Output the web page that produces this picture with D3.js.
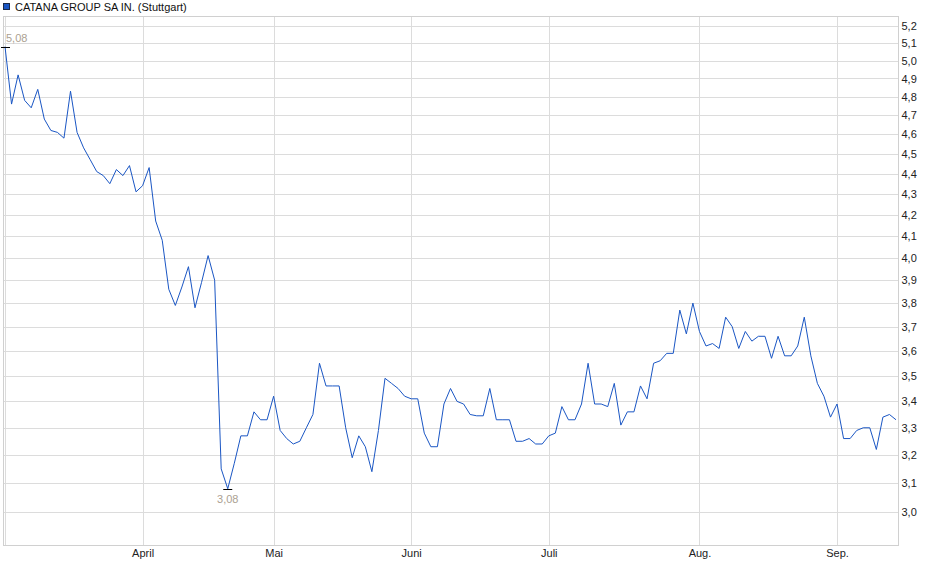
<!DOCTYPE html>
<html>
<head>
<meta charset="utf-8">
<script src="https://cdn.jsdelivr.net/npm/d3@7"></script>
<style>
	body { margin: 0; background: #fff; }
	svg { display: block; font-family: "Liberation Sans", Arial, sans-serif; }
	.grid line { stroke: #dcdcdc; stroke-width: 1; shape-rendering: crispEdges; }
	.axis text { fill: #222; font-size: 11px; }
	.axis path, .axis line { display: none; }
	.extreme { fill: #ab9f92; font-size: 11px; }
</style>
</head>
<body>
<script>

const title = "CATANA GROUP SA IN. (Stuttgart)";

// daily closes
const prices = [
	5.08, 4.76, 4.92, 4.78, 4.74, 4.84, 4.68, 4.62, 4.61, 4.58,
	4.83, 4.61, 4.53, 4.47, 4.41, 4.39, 4.35, 4.42, 4.39, 4.44,
	4.31, 4.34, 4.43, 4.17, 4.08, 3.86, 3.79, 3.87, 3.96, 3.78,
	3.89, 4.01, 3.90, 3.15, 3.08, 3.17, 3.27, 3.27, 3.36, 3.33,
	3.33, 3.42, 3.29, 3.26, 3.24, 3.25, 3.30, 3.35, 3.55, 3.46,
	3.46, 3.46, 3.30, 3.19, 3.27, 3.23, 3.14, 3.29, 3.49, 3.47,
	3.45, 3.42, 3.41, 3.41, 3.28, 3.23, 3.23, 3.39, 3.45, 3.40,
	3.39, 3.35, 3.345, 3.345, 3.45, 3.33, 3.33, 3.33, 3.25, 3.25,
	3.26, 3.24, 3.24, 3.27, 3.28, 3.38, 3.33, 3.33, 3.39, 3.55,
	3.39, 3.39, 3.38, 3.47, 3.31, 3.36, 3.36, 3.46, 3.41, 3.55,
	3.56, 3.59, 3.59, 3.77, 3.67, 3.80, 3.68, 3.62, 3.63, 3.61,
	3.74, 3.70, 3.61, 3.68, 3.64, 3.66, 3.66, 3.57, 3.66, 3.58,
	3.58, 3.62, 3.74, 3.58, 3.47, 3.42, 3.34, 3.39, 3.26, 3.26,
	3.29, 3.30, 3.30, 3.22, 3.34, 3.35, 3.33
];

// index of first trading day in each month
const monthIdx = [0, 21, 41, 62, 83, 106, 127];
const monthLabels = ["", "April", "Mai", "Juni", "Juli", "Aug.", "Sep."];

const yTicks = [3.0, 3.1, 3.2, 3.3, 3.4, 3.5, 3.6, 3.7, 3.8, 3.9, 4.0,
	4.1, 4.2, 4.3, 4.4, 4.5, 4.6, 4.7, 4.8, 4.9, 5.0, 5.1, 5.2];

const width = 940, height = 579;
const plot = { left: 3.5, right: 898.5, top: 16.5, bottom: 545.5 };

const fmt = d => d3.format(".1f")(d).replace(".", ",");
const fmt2 = d => d3.format(".2f")(d).replace(".", ",");

const x = d3.scaleLinear()
	.domain([0, prices.length - 1])
	.range([5, 896]);

const y = d3.scaleLog()
	.domain([2.89, 5.259])
	.range([plot.bottom - 0.5, plot.top - 0.5]);

const svg = d3.select("body").append("svg")
	.attr("width", width)
	.attr("height", height);

// legend
svg.append("rect")
	.attr("x", 3.5).attr("y", 3.5)
	.attr("width", 6).attr("height", 6)
	.attr("fill", "#1a56c4")
	.attr("stroke", "#1b2a4a")
	.attr("stroke-width", 1);

svg.append("text")
	.attr("x", 15).attr("y", 10.5)
	.attr("font-size", "11px")
	.attr("fill", "#111")
	.text(title);

// grid
const grid = svg.append("g").classed("grid", true);

grid.selectAll("line.h")
	.data(yTicks)
	.enter().append("line")
	.attr("x1", plot.left).attr("x2", plot.right)
	.attr("y1", d => Math.round(y(d)) + 0.5)
	.attr("y2", d => Math.round(y(d)) + 0.5);

grid.selectAll("line.v")
	.data(monthIdx)
	.enter().append("line")
	.attr("y1", plot.top).attr("y2", plot.bottom)
	.attr("x1", d => Math.round(x(d)) + 0.5)
	.attr("x2", d => Math.round(x(d)) + 0.5);

// frame
svg.append("rect")
	.attr("x", plot.left).attr("y", plot.top)
	.attr("width", plot.right - plot.left)
	.attr("height", plot.bottom - plot.top)
	.attr("fill", "none")
	.attr("stroke", "#d0d0d0")
	.attr("shape-rendering", "crispEdges");

// axes
svg.append("g")
	.classed("axis", true)
	.attr("transform", `translate(${plot.right},0)`)
	.call(d3.axisRight(y).tickValues(yTicks).tickFormat(fmt).tickSize(0).tickPadding(3));

svg.append("g")
	.classed("axis", true)
	.attr("transform", `translate(0,${plot.bottom})`)
	.call(d3.axisBottom(x).tickValues(monthIdx).tickFormat((d, i) => monthLabels[i]).tickSize(0).tickPadding(4));

// price line
const line = d3.line()
	.x((d, i) => x(i))
	.y(d => y(d));

svg.append("path")
	.datum(prices)
	.attr("fill", "none")
	.attr("stroke", "#1a56c4")
	.attr("stroke-width", 1)
	.attr("d", line);

// high / low markers
const hiIdx = d3.maxIndex(prices);
const loIdx = d3.minIndex(prices);

svg.append("line")
	.attr("x1", x(hiIdx) - 4).attr("x2", x(hiIdx) + 5)
	.attr("y1", Math.round(y(prices[hiIdx])) + 0.5)
	.attr("y2", Math.round(y(prices[hiIdx])) + 0.5)
	.attr("stroke", "#000");

svg.append("text")
	.classed("extreme", true)
	.attr("x", x(hiIdx) + 1)
	.attr("y", y(prices[hiIdx]) - 5)
	.text(fmt2(prices[hiIdx]));

svg.append("line")
	.attr("x1", x(loIdx) - 4.5).attr("x2", x(loIdx) + 4.5)
	.attr("y1", Math.round(y(prices[loIdx])) + 0.5)
	.attr("y2", Math.round(y(prices[loIdx])) + 0.5)
	.attr("stroke", "#000");

svg.append("text")
	.classed("extreme", true)
	.attr("x", x(loIdx))
	.attr("y", y(prices[loIdx]) + 14)
	.attr("text-anchor", "middle")
	.text(fmt2(prices[loIdx]));

</script>
</body>
</html>
